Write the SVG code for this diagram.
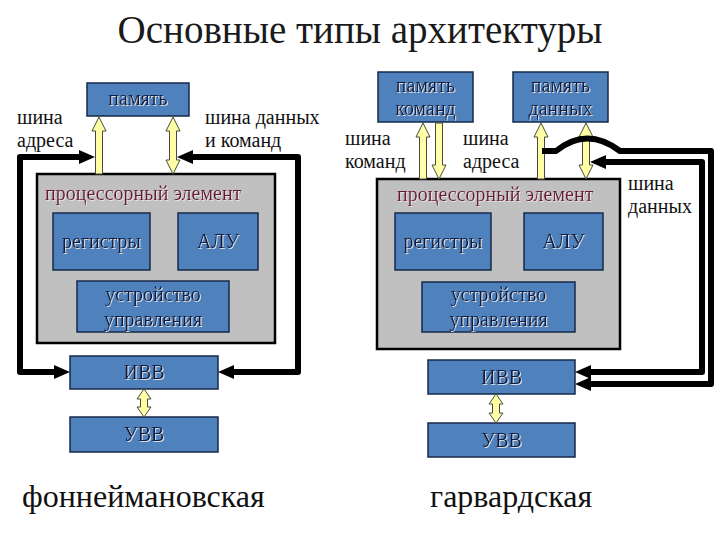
<svg xmlns="http://www.w3.org/2000/svg" width="720" height="540" viewBox="0 0 720 540" font-family="'Liberation Serif', serif">
<defs>
<style>
text{font-family:'Liberation Serif',serif;}
.title{font-size:39px;fill:#1a1a1a;text-anchor:middle;}
.lbl{font-size:20px;fill:#111;}
.big{font-size:32px;fill:#111;}
.box{fill:#4f81bd;stroke:#17284a;stroke-width:1.5;}
.bt{font-size:20px;fill:#0f1e44;text-anchor:middle;filter:url(#sh);}
.cpu{fill:#c0c0c0;stroke:#000;stroke-width:2.5;}
.ct{font-size:20px;fill:#6b1535;filter:url(#sh);}
.ya{fill:#ffffa6;stroke:#4a4a3a;stroke-width:1;}
.bus{fill:none;stroke:#000;stroke-width:6;stroke-linejoin:round;}
</style>
<filter id="sh" x="-10%" y="-30%" width="130%" height="160%">
<feDropShadow dx="1" dy="1" stdDeviation="0.4" flood-color="#e8e8e8" flood-opacity="0.9"/>
</filter>
<marker id="ah" markerUnits="userSpaceOnUse" markerWidth="16" markerHeight="14" refX="0" refY="7" orient="auto-start-reverse">
<path d="M0,0 L16,7 L0,14 z" fill="#000"/>
</marker>
</defs>
<rect width="720" height="540" fill="#fff"/>
<text class="title" x="360" y="43">Основные типы архитектуры</text>

<g id="cpu-left">
<rect class="cpu" x="37" y="174" width="238" height="169"/>
<text class="ct" x="45" y="200">процессорный элемент</text>
</g>
<g id="mem-left"><rect class="box" x="87" y="83" width="102" height="33"/><text class="bt" x="138" y="105">память</text></g>
<g id="reg-left"><rect class="box" x="53" y="213" width="97" height="57"/><text class="bt" x="101.5" y="248">регистры</text></g>
<g id="alu-left"><rect class="box" x="178" y="213" width="80" height="57"/><text class="bt" x="218" y="248">АЛУ</text></g>
<g id="cu-left"><rect class="box" x="77" y="281" width="152" height="51"/><text class="bt" x="153" y="301">устройство</text><text class="bt" x="153" y="326">управления</text></g>
<g id="ivv-left"><rect class="box" x="70" y="356" width="148" height="33"/><text class="bt" x="144" y="379">ИВВ</text></g>
<g id="uvv-left"><rect class="box" x="70" y="417" width="148" height="35"/><text class="bt" x="144" y="441">УВВ</text></g>

<text class="lbl" x="17" y="124">шина</text>
<text class="lbl" x="17" y="147">адреса</text>
<text class="lbl" x="205" y="124">шина данных</text>
<text class="lbl" x="205" y="147">и команд</text>

<g id="cpu-right">
<rect class="cpu" x="377" y="179" width="243" height="170"/>
<text class="ct" x="397" y="201">процессорный элемент</text>
</g>
<g id="memc-right"><rect class="box" x="378" y="72" width="95" height="50"/><text class="bt" x="425.5" y="92">память</text><text class="bt" x="425.5" y="115">команд</text></g>
<g id="memd-right"><rect class="box" x="513" y="72" width="95" height="50"/><text class="bt" x="560.5" y="92">память</text><text class="bt" x="560.5" y="115">данных</text></g>
<g id="reg-right"><rect class="box" x="395" y="213" width="96" height="57"/><text class="bt" x="443" y="248">регистры</text></g>
<g id="alu-right"><rect class="box" x="524" y="213" width="79" height="57"/><text class="bt" x="563.5" y="248">АЛУ</text></g>
<g id="cu-right"><rect class="box" x="422" y="282" width="153" height="50"/><text class="bt" x="498.5" y="301">устройство</text><text class="bt" x="498.5" y="326">управления</text></g>
<g id="ivv-right"><rect class="box" x="428" y="360" width="147" height="34"/><text class="bt" x="501.5" y="384">ИВВ</text></g>
<g id="uvv-right"><rect class="box" x="428" y="423" width="147" height="34"/><text class="bt" x="501.5" y="447">УВВ</text></g>

<text class="lbl" x="345" y="145">шина</text>
<text class="lbl" x="345" y="168">команд</text>
<text class="lbl" x="463" y="145">шина</text>
<text class="lbl" x="463" y="168">адреса</text>
<text class="lbl" x="628" y="190">шина</text>
<text class="lbl" x="628" y="213">данных</text>

<g id="connectors">
<polygon class="ya" points="99,117 106,131 102.5,131 102.5,174 95.5,174 95.5,131 92,131"/>
<polygon class="ya" points="173,117 180,131 176.5,131 176.5,160 180,160 173,174 166,160 169.5,160 169.5,131 166,131"/>
<polygon class="ya" points="144,389 151,399 147.5,399 147.5,407 151,407 144,417 137,407 140.5,407 140.5,399 137,399"/>
<path class="bus" d="M79,157 H20 V372 H54" marker-start="url(#ah)" marker-end="url(#ah)"/>
<path class="bus" d="M193,157 H298 V372 H234" marker-start="url(#ah)" marker-end="url(#ah)"/>
<polygon class="ya" points="423,123 430,137 426.5,137 426.5,179 419.5,179 419.5,137 416,137"/>
<polygon class="ya" points="435.5,123 442.5,123 442.5,165 446,165 439,179 432,165 435.5,165"/>
<polygon class="ya" points="541,123 548,137 544.5,137 544.5,179 537.5,179 537.5,137 534,137"/>
<polygon class="ya" points="586,123 593,137 589.5,137 589.5,165 593,165 586,179 579,165 582.5,165 582.5,137 579,137"/>
<polygon class="ya" points="496,394 503,404 499.5,404 499.5,413 503,413 496,423 489,413 492.5,413 492.5,404 489,404"/>
<path class="bus" d="M542,151 H556 Q587,126 620,151 H711 V384 H591" marker-end="url(#ah)"/>
<path class="bus" d="M606,162 H702 V372 H591" marker-start="url(#ah)" marker-end="url(#ah)"/>
</g>

<text class="big" x="22" y="507">фоннеймановская</text>
<text class="big" x="430" y="507">гарвардская</text>
</svg>
